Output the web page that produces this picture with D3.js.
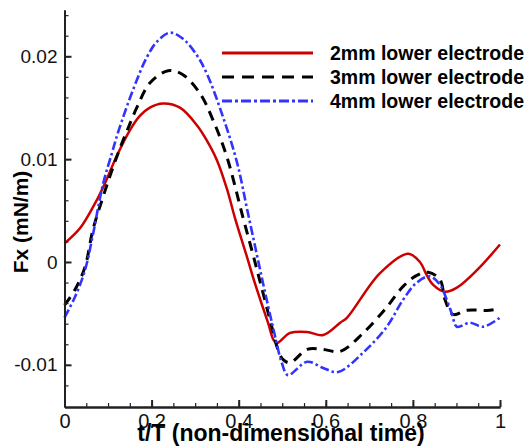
<!DOCTYPE html>
<html>
<head>
<meta charset="utf-8">
<script src="https://cdn.jsdelivr.net/npm/d3@7"></script>
<style>
  body { margin: 0; background: #fff; }
  svg { display: block; font-family: Arial, "Liberation Sans", sans-serif; }
</style>
</head>
<body>
<svg width="531" height="448"></svg>
<script>
// 2mm lower electrode
const t2mm = [0, 0.036, 0.065, 0.088, 0.121, 0.150, 0.173, 0.196, 0.226, 0.265, 0.304, 0.327, 0.350, 0.373, 0.392,
  0.419, 0.433, 0.449, 0.468, 0.479, 0.487, 0.518, 0.557, 0.594, 0.633, 0.649, 0.724, 0.789, 0.816,
  0.832, 0.846, 0.874, 0.901, 0.947, 1]
const fx2mm = [0.0018, 0.0033, 0.0053, 0.0072, 0.0104, 0.0128, 0.0142, 0.0150, 0.0154, 0.0150, 0.0133, 0.0118, 0.0099, 0.0071, 0.0042,
  0.0005, -0.0015, -0.0036, -0.0060, -0.0075, -0.0079, -0.0069, -0.0068, -0.0071, -0.0059, -0.0054, -0.0011, 0.0008, 0.0000,
  -0.0013, -0.0022, -0.0029, -0.0025, -0.0008, 0.0017]

// 3mm lower electrode
const t3mm = [0, 0.024, 0.047, 0.065, 0.086, 0.104, 0.125, 0.144, 0.166, 0.196, 0.238, 0.272, 0.311, 0.341, 0.373,
  0.410, 0.433, 0.449, 0.476, 0.490, 0.502, 0.518, 0.557, 0.594, 0.633, 0.686, 0.740, 0.777, 0.809, 0.835,
  0.862, 0.874, 0.892, 0.924, 0.977, 1]
const fx3mm = [-0.0042, -0.0027, -0.0005, 0.0031, 0.0060, 0.0083, 0.0108, 0.0128, 0.0150, 0.0174, 0.0186, 0.0182, 0.0164, 0.0138, 0.0102,
  0.0043, 0.0007, -0.0019, -0.0063, -0.0085, -0.0095, -0.0098, -0.0085, -0.0085, -0.0087, -0.0069, -0.0044, -0.0024, -0.0013, -0.0010,
  -0.0017, -0.0037, -0.0051, -0.0047, -0.0047, -0.0045]

// 4mm lower electrode
const t4mm = [0, 0.024, 0.047, 0.065, 0.088, 0.109, 0.123, 0.157, 0.189, 0.212, 0.242, 0.272, 0.304, 0.327, 0.364,
  0.396, 0.421, 0.453, 0.479, 0.499, 0.513, 0.557, 0.594, 0.628, 0.686, 0.740, 0.777, 0.809, 0.839, 0.862,
  0.878, 0.890, 0.901, 0.931, 0.961, 1]
const fx4mm = [-0.0054, -0.0034, -0.0008, 0.0026, 0.0075, 0.0106, 0.0126, 0.0167, 0.0199, 0.0214, 0.0223, 0.0217, 0.0201, 0.0183, 0.0141,
  0.0097, 0.0048, -0.0015, -0.0064, -0.0098, -0.0110, -0.0097, -0.0103, -0.0107, -0.0088, -0.0063, -0.0037, -0.0020, -0.0014, -0.0022,
  -0.0037, -0.0051, -0.0063, -0.0059, -0.0063, -0.0054]

const labels = ['2mm lower electrode', '3mm lower electrode', '4mm lower electrode']
const xTicks = [0, 0.2, 0.4, 0.6, 0.8, 1]
const yTicks = [-0.01, 0, 0.01, 0.02]

const series = [
  {t: t2mm, fx: fx2mm, color: '#cc0000', width: 2.5, dash: null, legendDash: null},
  {t: t3mm, fx: fx3mm, color: '#000000', width: 3, dash: '10,7', legendDash: '12,8'},
  {t: t4mm, fx: fx4mm, color: '#3333ff', width: 2.6, dash: '9,3,2.5,3', legendDash: '10,3,3,3'}
]

const svg = d3.select('svg')
const plotLeft = 64.5, plotRight = 500, plotTop = 10, plotBottom = 407

const x = d3.scaleLinear().domain([0, 1]).range([plotLeft, plotRight])
const y = d3.scaleLinear().domain([-0.0141, 0.0245]).range([plotBottom, plotTop])

const line = d3.line()
  .x(d => x(d[0]))
  .y(d => y(d[1]))
  .curve(d3.curveCatmullRom.alpha(0.5))

series.forEach(s => {
  svg.append('path')
    .datum(s.t.map((t, i) => [t, s.fx[i]]))
    .attr('fill', 'none')
    .attr('stroke', s.color)
    .attr('stroke-width', s.width)
    .attr('stroke-dasharray', s.dash)
    .attr('d', line)
})

// plain hyphen, as in the original figure
const fmt = d => String(+d.toFixed(3))

// axes: ticks point inward, no box
const xAxis = d3.axisBottom(x).tickValues(xTicks).tickSize(-7).tickSizeOuter(0).tickPadding(7).tickFormat(fmt)
const xMinor = d3.axisBottom(x).tickValues(d3.range(0, 1.001, 0.05)).tickSize(-4).tickSizeOuter(0).tickFormat('')
const yAxis = d3.axisLeft(y).tickValues(yTicks).tickSize(-7).tickSizeOuter(0).tickPadding(7).tickFormat(fmt)
const yMinor = d3.axisLeft(y).tickValues(d3.range(-0.012, 0.0245, 0.002)).tickSize(-4).tickSizeOuter(0).tickFormat('')

const styleAxis = g => {
  g.select('.domain').attr('stroke', '#222').attr('stroke-width', 2)
  g.selectAll('.tick line').attr('stroke', '#222').attr('stroke-width', 1.2)
  g.selectAll('.tick text').attr('fill', '#111').attr('font-size', 20)
}

svg.append('g').attr('transform', `translate(0,${plotBottom})`).call(xMinor).call(styleAxis)
svg.append('g').attr('transform', `translate(0,${plotBottom})`).call(xAxis).call(styleAxis)
  .selectAll('.tick line').attr('stroke-width', 2)
svg.append('g').attr('transform', `translate(${plotLeft},0)`).call(yMinor).call(styleAxis)
svg.append('g').attr('transform', `translate(${plotLeft},0)`).call(yAxis).call(styleAxis)
  .call(g => g.selectAll('.tick text').attr('font-size', 19))
  .selectAll('.tick line').attr('stroke-width', 2)

svg.append('text')
  .attr('x', 281).attr('y', 441)
  .attr('text-anchor', 'middle')
  .attr('font-size', 23).attr('font-weight', 'bold')
  .text('t/T (non-dimensional time)')

svg.append('text')
  .attr('transform', 'translate(28,222) rotate(-90)')
  .attr('text-anchor', 'middle')
  .attr('font-size', 21).attr('font-weight', 'bold')
  .text('Fx (mN/m)')

// legend
const legend = svg.append('g')
series.forEach((s, i) => {
  const ly = 53 + i * 24
  legend.append('line')
    .attr('x1', 222).attr('x2', 313).attr('y1', ly).attr('y2', ly)
    .attr('stroke', s.color).attr('stroke-width', 3)
    .attr('stroke-dasharray', s.legendDash)
  legend.append('text')
    .attr('x', 330).attr('y', ly + 7)
    .attr('font-size', 19.5).attr('font-weight', 'bold')
    .text(labels[i])
})
</script>
</body>
</html>
